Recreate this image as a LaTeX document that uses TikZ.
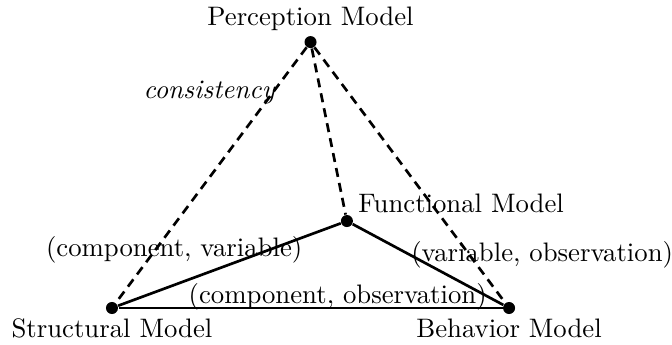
\documentclass[tikz,border=0pt]{standalone}
\usetikzlibrary{positioning}
\begin{document}
\begin{tikzpicture}[
    x=0.87cm, y=0.87cm,
    dot/.style={circle, fill, inner sep=0pt, minimum size=4.5pt},
    link/.style={line width=1pt},
    relation/.style={line width=1pt, dash pattern=on 3.4pt off 2.3pt}
]
\useasboundingbox (-1.692,-0.544) rectangle (8.462,4.654);
\node[dot] (struct) at (0,0) {};
\node[dot] (behav) at (6,0) {};
\node[dot] (func) at (3.55,1.314) {};
\node[dot] (perc) at (3,4.018) {};

\node[below=-1.9pt of struct] (structlbl) {Structural Model};
\node[below=-1.9pt of behav] (behavlbl) {Behavior Model};
\node[anchor=west, inner sep=0pt] (funclbl) at (3.716,1.586) {Functional Model};
\node[above=-1.9pt of perc] (perclbl) {Perception Model};

\draw[link] (struct) -- (behav);
\draw[link] (struct) -- (func);
\draw[link] (func) -- (behav);
\draw[relation] (perc) -- (struct);
\draw[relation] (perc) -- (func);
\draw[relation] (perc) -- (behav);

\node[anchor=base east, inner sep=0pt] (cons) at (2.48,3.17) {\textit{consistency}};
\node (compvar) at (0.94,0.88) {(component, variable)};
\node (varobs) at (6.50,0.81) {(variable, observation)};
\node (compobs) at (3.41,0.17) {(component, observation)};
\end{tikzpicture}
\end{document}
